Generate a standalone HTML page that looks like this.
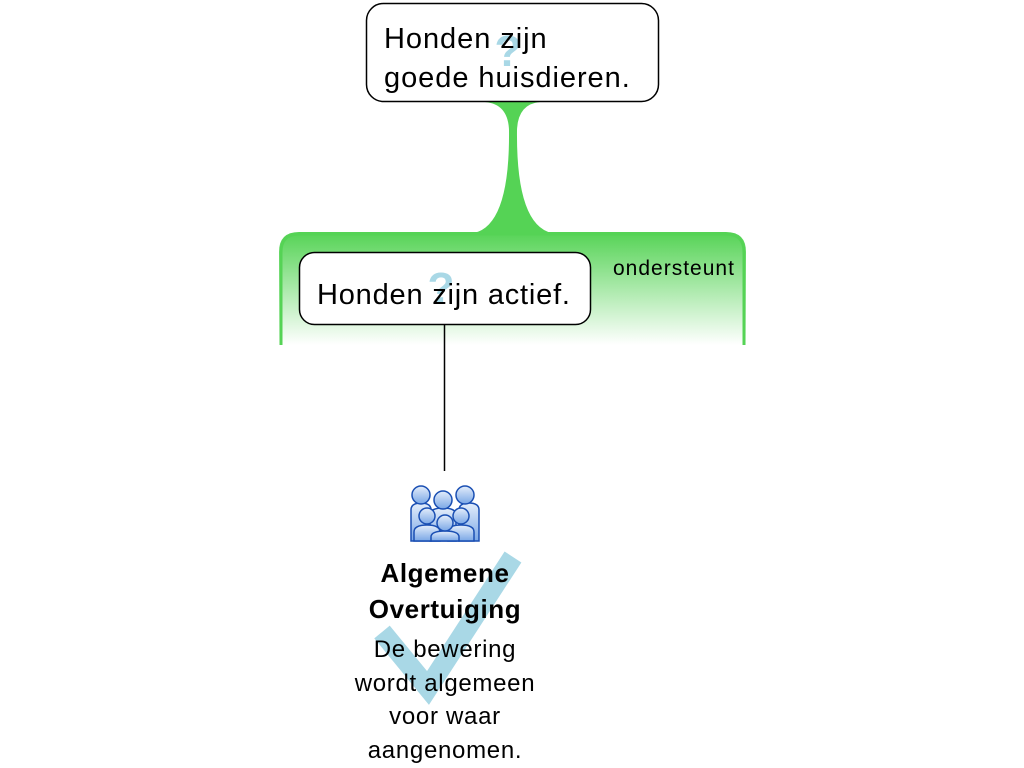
<!DOCTYPE html>
<html><head><style>
body{margin:0;width:1024px;height:768px;background:#fff;position:relative;overflow:hidden;font-family:"Liberation Sans",sans-serif}
.t{position:absolute;white-space:nowrap}
</style></head><body>
<svg width="1024" height="768" style="position:absolute;left:0;top:0">
<defs>
<linearGradient id="g" x1="0" y1="0" x2="0" y2="1">
<stop offset="0" stop-color="#55d355"/><stop offset="1" stop-color="#ffffff"/>
</linearGradient>
<linearGradient id="p" x1="0" y1="0" x2="0" y2="1">
<stop offset="0" stop-color="#e4eefb"/><stop offset="1" stop-color="#7aa7e6"/>
</linearGradient>
</defs>
<path d="M279,345 L279,252 Q279,232 299,232 L726,232 Q746,232 746,252 L746,345 Z" fill="url(#g)"/>
<path d="M281,345 L281,252 Q281,234 299,234 L726,234 Q744,234 744,252 L744,345" fill="none" stroke="#55d355" stroke-width="3"/>
<path d="M485,102 L540,102 Q518,104 517,130 Q516,225 552,233 L474,233 Q510,225 509,130 Q508,104 485,102 Z" fill="#55d355"/>
<rect x="366.5" y="3.5" width="292" height="98" rx="17" fill="#fff" stroke="#000" stroke-width="1.5"/>
<rect x="299.5" y="252.5" width="291" height="72" rx="15" fill="#fff" stroke="#000" stroke-width="1.5"/>
<line x1="444.5" y1="325" x2="444.5" y2="471" stroke="#000" stroke-width="1.5"/>
<text x="508" y="66" font-family="Liberation Sans" font-weight="bold" font-size="44" fill="#a9d8e6" text-anchor="middle">?</text>
<text x="441" y="303" font-family="Liberation Sans" font-weight="bold" font-size="44" fill="#a9d8e6" text-anchor="middle">?</text>
<polyline points="382,632 428,688 513,557" fill="none" stroke="#a9d8e6" stroke-width="20"/>
<g stroke="#1a4fb3" stroke-width="1.5" fill="url(#p)">
<path d="M411,541 L411,510 Q411,503 421,503 Q431,503 431,510 L431,541 Z"/>
<path d="M459,541 L459,510 Q459,503 469,503 Q479,503 479,510 L479,541 Z"/>
<circle cx="421" cy="495" r="9"/><circle cx="465" cy="495" r="9"/>
<path d="M430,541 L430,515 Q430,508 443,508 Q456,508 456,515 L456,541 Z"/>
<circle cx="443" cy="500" r="9"/>
<path d="M414,541 L414,532 Q414,525 427,525 Q440,525 440,532 L440,541 Z"/>
<path d="M448,541 L448,532 Q448,525 461,525 Q474,525 474,532 L474,541 Z"/>
<circle cx="427" cy="516" r="8"/><circle cx="461" cy="516" r="8"/>
<path d="M431,541 L431,537 Q431,531 445,531 Q459,531 459,537 L459,541 Z"/>
<circle cx="445" cy="523" r="8"/>
</g>
</svg>
<div class="t" style="left:384px;top:20px;font-size:29px;letter-spacing:0.95px;line-height:39px">Honden zijn<br>goede huisdieren.</div>
<div class="t" style="left:317px;top:279px;font-size:29px;letter-spacing:0.8px">Honden zijn actief.</div>
<div class="t" style="left:613px;top:257px;font-size:21px;letter-spacing:1px">ondersteunt</div>
<div class="t" style="left:335px;width:220px;top:555px;text-align:center;font-size:26px;letter-spacing:0.6px;font-weight:bold;line-height:36px">Algemene<br>Overtuiging</div>
<div class="t" style="left:325px;width:240px;top:633px;text-align:center;font-size:24px;letter-spacing:0.7px;line-height:33.5px">De bewering<br>wordt algemeen<br>voor waar<br>aangenomen.</div>
</body></html>
